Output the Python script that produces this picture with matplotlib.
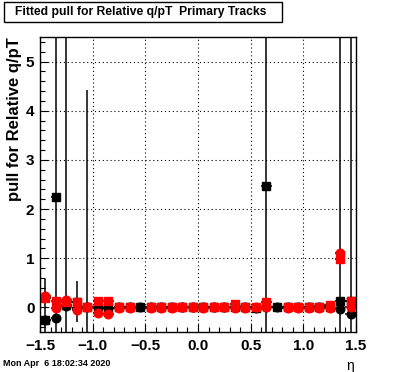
import numpy as np
import matplotlib
matplotlib.use("Agg")
import matplotlib.pyplot as plt
from matplotlib.patches import Rectangle
from matplotlib.ticker import MultipleLocator

plt.rcParams['font.family'] = ['Liberation Sans', 'DejaVu Sans']

nan = np.nan

# eta bin centres (30 bins of 0.1 from -1.5 to 1.5)
eta = [-1.45, -1.35, -1.25, -1.15, -1.05, -0.95, -0.85, -0.75, -0.65, -0.55,
       -0.45, -0.35, -0.25, -0.15, -0.05, 0.05, 0.15, 0.25, 0.35, 0.45,
       0.55, 0.65, 0.75, 0.85, 0.95, 1.05, 1.15, 1.25, 1.35, 1.45]

# black squares
blk_sq = [-0.26, 2.25, 0.05, 0.12, 0.00, 0.00, -0.01, 0.00, 0.00, 0.00,
          0.00, 0.00, 0.00, 0.00, 0.00, 0.00, 0.00, 0.00, 0.00, 0.00,
          -0.01, 2.47, 0.00, 0.00, 0.00, 0.00, 0.00, 0.00, 0.14, 0.14]
blk_sq_err = [0.83, 10, 10, 0.42, 4.43, 0.02, 0.02, 0.02, 0.02, 0.02,
              0.02, 0.02, 0.02, 0.02, 0.02, 0.02, 0.02, 0.02, 0.02, 0.02,
              0.02, 10, 0.02, 0.02, 0.02, 0.02, 0.02, 0.02, 10, 10]

# black circles
blk_ci = [-0.26, -0.21, 0.03, -0.02, 0.00, 0.00, -0.01, 0.00, 0.00, 0.00,
          0.00, 0.00, 0.00, 0.00, 0.00, 0.00, 0.00, 0.00, 0.00, 0.00,
          -0.02, 0.00, 0.00, 0.00, 0.00, 0.00, 0.00, 0.00, -0.03, -0.13]
blk_ci_err = [0.03, 0.03, 0.03, 0.03, 0.02, 0.02, 0.02, 0.02, 0.02, 0.02,
              0.02, 0.02, 0.02, 0.02, 0.02, 0.02, 0.02, 0.02, 0.02, 0.02,
              0.02, 0.02, 0.02, 0.02, 0.02, 0.02, 0.02, 0.02, 0.05, 0.05]

# red squares
red_sq = [0.19, 0.14, 0.12, 0.11, 0.00, 0.13, 0.13, 0.00, 0.00, nan,
          0.00, 0.00, 0.00, 0.01, 0.01, 0.00, 0.00, 0.00, 0.07, 0.00,
          0.00, 0.11, nan, 0.00, 0.00, 0.00, 0.00, 0.05, 0.98, 0.14]
red_sq_err = [0.04, 0.03, 0.03, 0.03, 0.02, 0.03, 0.03, 0.02, 0.02, 0.02,
              0.02, 0.02, 0.02, 0.02, 0.02, 0.02, 0.02, 0.02, 0.03, 0.02,
              0.02, 0.05, 0.02, 0.02, 0.02, 0.02, 0.02, 0.08, 0.05, 0.05]

# red circles
red_ci = [0.24, -0.01, 0.16, -0.05, 0.00, -0.12, -0.14, -0.01, -0.01, nan,
          -0.01, -0.02, -0.01, 0.00, 0.00, -0.01, 0.00, 0.00, -0.02, -0.01,
          0.00, 0.00, nan, -0.01, -0.01, -0.01, -0.01, -0.01, 1.10, 0.01]
red_ci_err = [0.03, 0.03, 0.03, 0.03, 0.02, 0.03, 0.03, 0.02, 0.02, 0.02,
              0.02, 0.02, 0.02, 0.02, 0.02, 0.02, 0.02, 0.02, 0.02, 0.02,
              0.02, 0.02, 0.02, 0.02, 0.02, 0.02, 0.02, 0.02, 0.05, 0.03]

fig = plt.figure(figsize=(3.96, 3.72), dpi=100)
ax = fig.add_axes([40 / 396, 1 - 332 / 372, 316 / 396, 295 / 372])

kw = dict(xerr=0.05, ls='none', ecolor='black', elinewidth=1.1, capsize=0)
ax.errorbar(eta, blk_sq, yerr=blk_sq_err, fmt='s', color='black', ms=5.5, **kw)
ax.errorbar(eta, blk_ci, yerr=blk_ci_err, fmt='o', color='black', ms=6.2, **kw)
ax.errorbar(eta, red_sq, yerr=red_sq_err, fmt='s', color='red', ms=5.5, **kw)
ax.errorbar(eta, red_ci, yerr=red_ci_err, fmt='o', color='red', ms=6.2, **kw)

ax.set_xlim(-1.5, 1.5)
ax.set_ylim(-0.5, 5.5)
ax.xaxis.set_major_locator(MultipleLocator(0.5))
ax.xaxis.set_minor_locator(MultipleLocator(0.1))
ax.yaxis.set_major_locator(MultipleLocator(1))
ax.yaxis.set_minor_locator(MultipleLocator(0.2))
ax.tick_params(which='both', direction='in', top=False, right=False)
ax.tick_params(which='major', length=6, width=0.8)
ax.tick_params(which='minor', length=3.5, width=0.8)
ax.tick_params(axis='x', labelsize=11, pad=5)
ax.tick_params(axis='y', labelsize=11, pad=4)
for lab in ax.get_xticklabels() + ax.get_yticklabels():
    lab.set_fontweight('bold')
ax.grid(True, which='major', color='black', lw=0.8, ls=(0, (1, 2.5)))
ax.set_axisbelow(True)
for sp in ax.spines.values():
    sp.set_linewidth(1.0)

# title box
fig.patches.append(Rectangle((4 / 396, 1 - 22 / 372), 278 / 396, 20 / 372,
                             transform=fig.transFigure, fill=True,
                             facecolor='white', edgecolor='black', lw=1.0))
fig.text(15 / 396, 1 - 12 / 372, "Fitted pull for Relative q/pT  Primary Tracks",
         fontsize=8.7, fontweight='bold', ha='left', va='center')

fig.text(15 / 396, 1 - 37 / 372, "pull for Relative q/pT", rotation=90,
         fontsize=12, fontweight='bold', ha='center', va='top')
fig.text(350 / 396, 1 - 366 / 372, "η", fontsize=10, ha='center', va='center')
fig.text(3 / 396, 1 - 363 / 372, "Mon Apr  6 18:02:34 2020",
         fontsize=6.5, fontweight='bold', ha='left', va='center')

fig.savefig("out.png", dpi=100)
